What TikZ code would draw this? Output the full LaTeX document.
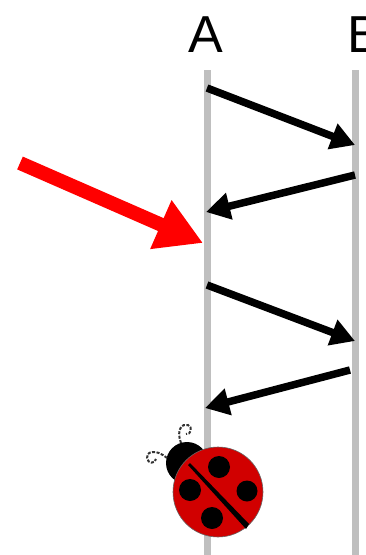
\documentclass[tikz,border=0pt]{standalone}
\usepackage{fontspec}
\setmainfont{Liberation Sans}
\usetikzlibrary{arrows.meta}

\begin{document}
\begin{tikzpicture}[x=1pt, y=-1pt,
  >={Triangle[length=24pt, width=26pt]},
  lane/.style={draw=black!25, line width=7pt},
  msg/.style={->, line width=7.5pt},
  pointer/.style={-{Triangle[length=46pt, width=50pt]}, draw=red, line width=14pt},
  peer/.style={font=\fontsize{52}{52}\selectfont, anchor=base},
  feeler/.style={draw=black!80, line width=2pt, dash pattern=on 3pt off 1.5pt},
  spot/.style={fill=black}]
  \useasboundingbox (0,0) rectangle (365,555);

  % two lifelines
  \node[peer] (A) at (206,52) {A};
  \node[peer] (B) at (365,52) {B};
  \coordinate (Atop) at (207,70);  \coordinate (Abot) at (207,560);
  \coordinate (Btop) at (355,70);  \coordinate (Bbot) at (355,560);
  \draw[lane] (Atop) -- (Abot);
  \draw[lane] (Btop) -- (Bbot);

  % messages going back and forth
  \coordinate (a1) at (207,88);   \coordinate (b1) at (355,145);
  \coordinate (b2) at (355,175);  \coordinate (a2) at (206,212);
  \coordinate (a3) at (207,285);  \coordinate (b3) at (355,341);
  \coordinate (b4) at (350,370);  \coordinate (a4) at (205,408);
  \draw[msg] (a1) -- (b1);
  \draw[msg] (b2) -- (a2);
  \draw[msg] (a3) -- (b3);
  \draw[msg] (b4) -- (a4);

  % the red pointer
  \coordinate (tail) at (20,163);
  \coordinate (hit) at (203,243);
  \draw[pointer] (tail) -- (hit);

  % ladybug
  \fill[black] (187,463) circle (21pt);
  \draw[feeler]
    (181,443) .. controls (176,430) and (182,423) .. (188,425)
              .. controls (193,427) and (191,435) .. (186,434);
  \draw[feeler]
    (167,458) .. controls (155,448) and (146,452) .. (147,458)
              .. controls (148,464) and (155,464) .. (156,459);
  \fill[red!82!black, draw=black!60, line width=0.6pt] (218,492) circle (45pt);
  \fill[black] (190,463) -- (249,524) -- (246,529) -- (188,465) -- cycle;
  \fill[spot] (219,467) circle (11pt);
  \fill[spot] (190,490) circle (11pt);
  \fill[spot] (247,491) circle (10.5pt);
  \fill[spot] (212,518) circle (11pt);
\end{tikzpicture}
\end{document}
